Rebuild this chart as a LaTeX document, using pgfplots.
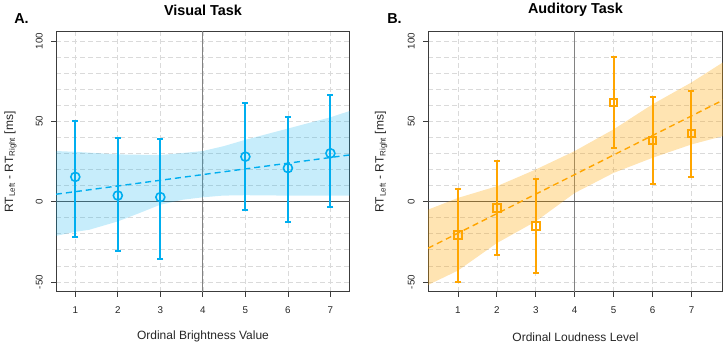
\documentclass[border=0pt]{standalone}
\usepackage{fontspec}
\setmainfont{Liberation Sans}
\usepackage{pgfplots}
\usepackage{pgfplotstable}
\pgfplotsset{compat=1.18}
\definecolor{vblue}{RGB}{0,174,239}
\definecolor{aorange}{RGB}{255,165,0}
\definecolor{gridc}{RGB}{218,218,218}
\definecolor{boxc}{RGB}{60,60,60}
\definecolor{vline}{RGB}{130,130,130}
\definecolor{hline}{RGB}{85,85,85}

\pgfplotstableread{
x y lo hi
1 15.4 -21.8 50.3
2 3.8 -30.6 39.7
3 2.8 -35.5 39.1
5 28.0 -5.4 61.5
6 20.9 -12.7 52.7
7 30.1 -3.4 66.2
}\visdata

\pgfplotstableread{
x y lo hi
1 -20.7 -49.9 7.6
2 -4.1 -33.4 25.4
3 -15.1 -44.2 14.2
5 61.7 33.5 89.9
6 38.1 10.9 65.1
7 42.4 15.2 69.0
}\auddata

\pgfplotsset{
  rstyle/.style={
    scale only axis, height=260pt,
    ymin=-56.25, ymax=105.6,
    xtick={1,2,3,4,5,6,7},
    ytick={-50,0,50,100},
    yticklabels={-50,0,50,100},
    minor ytick={-50,-40,...,100},
    grid=both,
    major grid style={gridc, dash pattern=on 5pt off 3pt, line width=0.7pt},
    minor grid style={gridc, dash pattern=on 5pt off 3pt, line width=0.7pt},
    minor tick length=0pt, major tick length=5pt,
    tick align=outside, tick pos=left,
    axis line style={boxc, line width=1pt},
    tick style={boxc, line width=0.8pt},
    /pgf/number format/assume math mode=true,
    tick label style={font=\fontsize{9.8}{11}\selectfont, text=black!85},
    yticklabel style={rotate=90, anchor=south, inner ysep=8pt},
    xticklabel style={yshift=-6pt},
    label style={font=\fontsize{12}{14}\selectfont, text=black!85},
    title style={font=\bfseries\fontsize{14.4}{17}\selectfont, anchor=center, at={(axis description cs:0.5,1.062)}},
    xlabel style={at={(axis description cs:0.5,-0.172)}, anchor=center},
    ylabel={RT\textsubscript{Left} - RT\textsubscript{Right} [ms]},
    clip=true,
  },
  ebar/.style={draw=none, mark=none, forget plot,
    error bars/.cd, y dir=both, y explicit,
    error bar style={draw=#1, line width=2pt},
    error mark options={draw=#1, rotate=90, mark size=3pt, line width=2pt}},
}

\begin{document}
\begin{tikzpicture}
\useasboundingbox (0,0) rectangle (724pt,344pt);

\begin{axis}[rstyle, at={(56pt,52pt)}, anchor=south west, width=294pt,
  xmin=0.546, xmax=7.46,
  title={Visual Task}, xlabel={Ordinal Brightness Value},
  ylabel style={at={(axis description cs:-0.155,0.5)}, anchor=center}]
  \addplot[vline, line width=1pt, forget plot] coordinates {(4,-60) (4,110)};
  \addplot[hline, line width=0.9pt, forget plot] coordinates {(0,0) (8,0)};
  \addplot[fill=vblue, fill opacity=0.22, draw=none, forget plot] coordinates {
    (0.546,31.5) (1,31) (2,29.4) (3,29) (3.5,30.2) (4,31.5) (4.5,34.6) (5,38.5) (6,45.5) (7,52.5) (7.46,56.5)
    (7.46,3.75) (7,3.75) (6,3.75) (5,4) (4.47,3.75) (4,2.7) (3.53,1.2) (3,-1.9) (2.51,-7.1) (2,-12.3) (1.33,-17.5) (1,-18.8) (0.546,-21.3)};
  \addplot[vblue, line width=1.4pt, dash pattern=on 6pt off 4pt, forget plot] coordinates {(0.546,4.6) (7.46,29.1)};
  \addplot[ebar=vblue] table[x=x, y=y, y error plus expr=\thisrow{hi}-\thisrow{y}, y error minus expr=\thisrow{y}-\thisrow{lo}]{\visdata};
  \addplot[draw=vblue, only marks, mark=o, mark size=4.5pt, mark options={draw=vblue, line width=1.6pt}] table[x=x, y=y]{\visdata};
\end{axis}

\begin{axis}[rstyle, at={(428pt,52pt)}, anchor=south west, width=295pt,
  xmin=0.23, xmax=7.81,
  title={Auditory Task}, xlabel={Ordinal Loudness Level},
  ylabel style={at={(axis description cs:-0.159,0.5)}, anchor=center}]
  \addplot[vline, line width=1pt, forget plot] coordinates {(4,-60) (4,110)};
  \addplot[hline, line width=0.9pt, forget plot] coordinates {(0,0) (8,0)};
  \addplot[fill=aorange, fill opacity=0.3, draw=none, forget plot] coordinates {
    (0.23,-5) (1,2.3) (2,9.6) (3,20) (4,31.5) (5,45) (6,60.6) (7,74.2) (7.81,86.7)
    (7.81,40.8) (7,35.6) (6,27.3) (5,17.9) (4,5.4) (3,-12.3) (2,-25.8) (1,-42.9) (0.23,-51.9)};
  \addplot[aorange, line width=1.4pt, dash pattern=on 6pt off 4pt, forget plot] coordinates {(0.23,-29) (7.81,63.2)};
  \addplot[ebar=aorange] table[x=x, y=y, y error plus expr=\thisrow{hi}-\thisrow{y}, y error minus expr=\thisrow{y}-\thisrow{lo}]{\auddata};
  \addplot[draw=aorange, only marks, mark=square, mark size=3.8pt, mark options={draw=aorange, line width=2pt}] table[x=x, y=y]{\auddata};
\end{axis}

\node[font=\bfseries\fontsize{14.4}{17}\selectfont] at (21.5pt,325pt) {A.};
\node[font=\bfseries\fontsize{14.4}{17}\selectfont] at (394.5pt,325pt) {B.};
\end{tikzpicture}
\end{document}
